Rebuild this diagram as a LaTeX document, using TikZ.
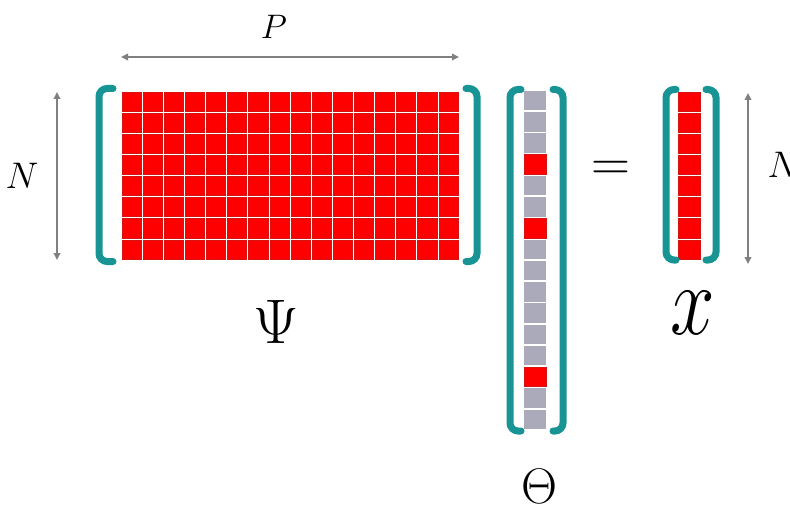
\RequirePackage{fix-cm}
\documentclass[tikz,border=0pt]{standalone}
\usetikzlibrary{arrows.meta}
\definecolor{brteal}{RGB}{24,148,148}
\definecolor{cellred}{RGB}{255,0,0}
\definecolor{celledge}{RGB}{215,20,20}
\definecolor{cellgray}{RGB}{170,170,186}
\definecolor{arrgray}{RGB}{128,128,128}
\begin{document}
\begin{tikzpicture}[x=1pt,y=-1pt,
  bracket/.style={draw=brteal,line width=7pt,rounded corners=8pt,line cap=round},
  dimarrow/.style={draw=arrgray,line width=1.8pt,{Triangle[length=7pt,width=6.5pt]}-{Triangle[length=7pt,width=6.5pt]}},
  redcell/.style={fill=cellred,draw=celledge,line width=0.7pt},
  graycell/.style={fill=cellgray},
  lbl/.style={inner sep=0pt,text=black}]
\useasboundingbox[fill=white] (0,0) rectangle (790,508);

% Psi matrix 16 x 8
\foreach \i in {0,...,15}{
  \foreach \j in {0,...,7}{
    \path[redcell] ({121+\i*21.125+1},{91+\j*21.125+1}) rectangle ++(19.1,19.1);
  }
}
\draw[bracket] (113,88.5) -- (99,88.5) -- (99,261.5) -- (113,261.5);
\draw[bracket] (466,88.5) -- (477,88.5) -- (477,261.5) -- (466,261.5);

% Theta vector 16 cells
\foreach \k in {0,...,15}{
  \path[graycell] (524,{90+\k*21.25+0.8}) rectangle ++(22,19.6);
}
\foreach \k in {3,6,13}{
  \path[redcell] (524,{90+\k*21.25+0.8}) rectangle ++(22,19.6);
}
\draw[bracket] (521,89.5) -- (510,89.5) -- (510,431) -- (521,431);
\draw[bracket] (553,89.5) -- (563,89.5) -- (563,431) -- (553,431);

% x vector 8 cells
\foreach \k in {0,...,7}{
  \path[redcell] (678,{91+\k*21.125+1}) rectangle ++(22,19.1);
}
\draw[bracket] (676,89.5) -- (666,89.5) -- (666,260) -- (676,260);
\draw[bracket] (706,89.5) -- (716,89.5) -- (716,260) -- (706,260);

% dimension arrows
\coordinate (pL) at (121,57);
\coordinate (pR) at (459,57);
\draw[dimarrow] (pL) -- (pR);
\coordinate (nLt) at (57,92);
\coordinate (nLb) at (57,260);
\draw[dimarrow] (nLt) -- (nLb);
\coordinate (nRt) at (748,93);
\coordinate (nRb) at (748,264);
\draw[dimarrow] (nRt) -- (nRb);

% labels
\node[lbl,font=\fontsize{34}{40}\selectfont] (Plab) at (274,27) {$P$};
\node[lbl,font=\fontsize{37}{44}\selectfont] (NLlab) at (22,176) {$N$};
\node[lbl,font=\fontsize{37}{44}\selectfont] (NRlab) at (784,165) {$N$};
\node[lbl,font=\fontsize{63}{70}\selectfont] (Psilab) at (276,322) {$\Psi$};
\node[lbl,font=\fontsize{50}{60}\selectfont] (Thetalab) at (539,486) {$\Theta$};
\node[lbl,font=\fontsize{100}{110}\selectfont] (xlab) at (693,313) {\scalebox{0.8}[1]{$x$}};
\node[lbl,font=\fontsize{54}{60}\selectfont] (eqlab) at (611,171) {$=$};
\end{tikzpicture}
\end{document}
